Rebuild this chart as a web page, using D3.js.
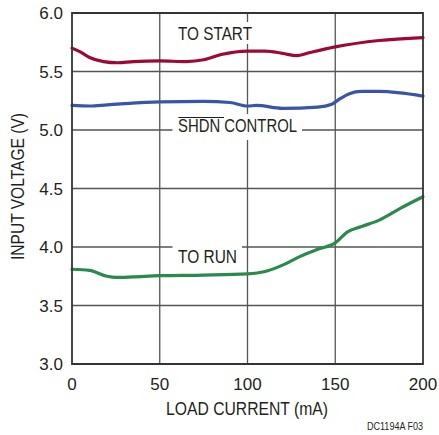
<!DOCTYPE html>
<html><head><meta charset="utf-8">
<script src="https://cdn.jsdelivr.net/npm/d3@7"></script>
<style>body{margin:0;background:#fff}svg{display:block}</style>
</head><body>
<script>
const xTicks = [0, 50, 100, 150, 200];
const yTicks = [3.0, 3.5, 4.0, 4.5, 5.0, 5.5, 6.0];
const startX = [0, 5, 10, 18, 26, 35, 50, 65, 75, 85, 100, 110, 120, 128, 135, 150, 175, 200];
const startV = [5.70, 5.665, 5.62, 5.585, 5.575, 5.585, 5.59, 5.585, 5.60, 5.645, 5.675, 5.675, 5.655, 5.635, 5.66, 5.71, 5.765, 5.79];
const shdnX = [0, 10, 20, 30, 50, 75, 90, 100, 105, 120, 140, 148, 153, 158, 165, 175, 200];
const shdnV = [5.21, 5.205, 5.215, 5.225, 5.24, 5.245, 5.235, 5.205, 5.21, 5.185, 5.195, 5.22, 5.27, 5.31, 5.33, 5.33, 5.29];
const runX = [0, 10, 20, 25, 35, 50, 75, 100, 110, 120, 130, 140, 150, 157, 165, 175, 187, 200];
const runV = [3.81, 3.80, 3.75, 3.74, 3.745, 3.755, 3.76, 3.77, 3.79, 3.845, 3.92, 3.98, 4.035, 4.13, 4.175, 4.23, 4.33, 4.43];
const seriesNames = ["TO START", "SHDN CONTROL", "TO RUN"];

const W = 439, H = 435;
const m = {l: 72, r: 16, t: 13, b: 71};
const svg = d3.select("body").append("svg").attr("width", W).attr("height", H);
const x = d3.scaleLinear().domain([0, 200]).range([m.l, W - m.r]);
const y = d3.scaleLinear().domain([3, 6]).range([H - m.b, m.t]);
const font = "'Liberation Sans Narrow', 'Liberation Sans', Arial, sans-serif";
const tickFont = "'Liberation Sans', Arial, sans-serif";
const ink = "#231f20";

// gridlines
const g = svg.append("g");
g.selectAll(".vg").data(xTicks.slice(1, -1)).join("line")
  .attr("x1", d => x(d)).attr("x2", d => x(d)).attr("y1", y(3)).attr("y2", y(6))
  .attr("stroke", "#555").attr("stroke-width", 1.3);
g.selectAll(".hg").data(yTicks.slice(1, -1)).join("line")
  .attr("y1", d => y(d)).attr("y2", d => y(d)).attr("x1", x(0)).attr("x2", x(200))
  .attr("stroke", "#555").attr("stroke-width", 1.3);

// label boxes
function label(txt, x0, baseline, len, boxX0, boxX1, bt, bb, overLen) {
  svg.append("rect").attr("x", boxX0).attr("y", bt).attr("width", boxX1 - boxX0).attr("height", bb - bt).attr("fill", "#fff");
  svg.append("text").attr("x", x0).attr("y", baseline)
    .attr("font-family", font).attr("font-size", 18.5).attr("fill", ink)
    .attr("textLength", len).attr("lengthAdjust", "spacingAndGlyphs")
    .text(txt);
  if (overLen) {
    svg.append("line").attr("x1", x0 + 0.5).attr("x2", x0 + overLen)
      .attr("y1", baseline - 14.5).attr("y2", baseline - 14.5)
      .attr("stroke", ink).attr("stroke-width", 1.1);
  }
}

// curves
const line = d3.line().x(d => x(d[0])).y(d => y(d[1])).curve(d3.curveMonotoneX);
const series = [
  {xs: startX, vs: startV, c: "#9c0a34"},
  {xs: shdnX, vs: shdnV, c: "#3a55a8"},
  {xs: runX, vs: runV, c: "#2a8a4c"}
];
series.forEach(s => {
  svg.append("path").datum(s.xs.map((v, i) => [v, s.vs[i]]))
    .attr("d", line).attr("fill", "none").attr("stroke", s.c).attr("stroke-width", 3.2)
    .attr("stroke-linejoin", "round").attr("stroke-linecap", "round");
});

label(seriesNames[0], 178, 40, 74, 174, 254, 22, 44, 0);
label(seriesNames[1], 178, 132, 119, 172.5, 302, 114, 140, 46);
label(seriesNames[2], 178, 263, 59, 172.5, 242, 240, 268, 0);

// frame
svg.append("path")
  .attr("d", `M${x(0)},${y(6)}H${x(200)}V${y(3)}H${x(0)}Z`)
  .attr("fill", "none").attr("stroke", "#333").attr("stroke-width", 1.8);

// tick labels
svg.selectAll(".xt").data(xTicks).join("text")
  .attr("x", d => x(d)).attr("y", y(3) + 26).attr("text-anchor", "middle")
  .attr("font-family", tickFont).attr("font-size", 17).attr("fill", ink)
  .text(d => d);
svg.selectAll(".yt").data(yTicks).join("text")
  .attr("x", x(0) - 9).attr("y", d => y(d) + 6).attr("text-anchor", "end")
  .attr("font-family", tickFont).attr("font-size", 17).attr("fill", ink)
  .text(d => d.toFixed(1));

// axis titles
svg.append("text").attr("x", 166).attr("y", 415)
  .attr("font-family", font).attr("font-size", 18.5).attr("fill", ink)
  .attr("textLength", 162).attr("lengthAdjust", "spacingAndGlyphs")
  .text("LOAD CURRENT (mA)");
svg.append("text").attr("transform", `translate(24,260) rotate(-90)`)
  .attr("font-family", font).attr("font-size", 18.5).attr("fill", ink)
  .attr("textLength", 147).attr("lengthAdjust", "spacingAndGlyphs")
  .text("INPUT VOLTAGE (V)");
svg.append("text").attr("x", 367).attr("y", 430)
  .attr("font-family", font).attr("font-size", 11).attr("fill", ink)
  .attr("textLength", 56).attr("lengthAdjust", "spacingAndGlyphs")
  .text("DC1194A F03");
</script>
</body></html>
